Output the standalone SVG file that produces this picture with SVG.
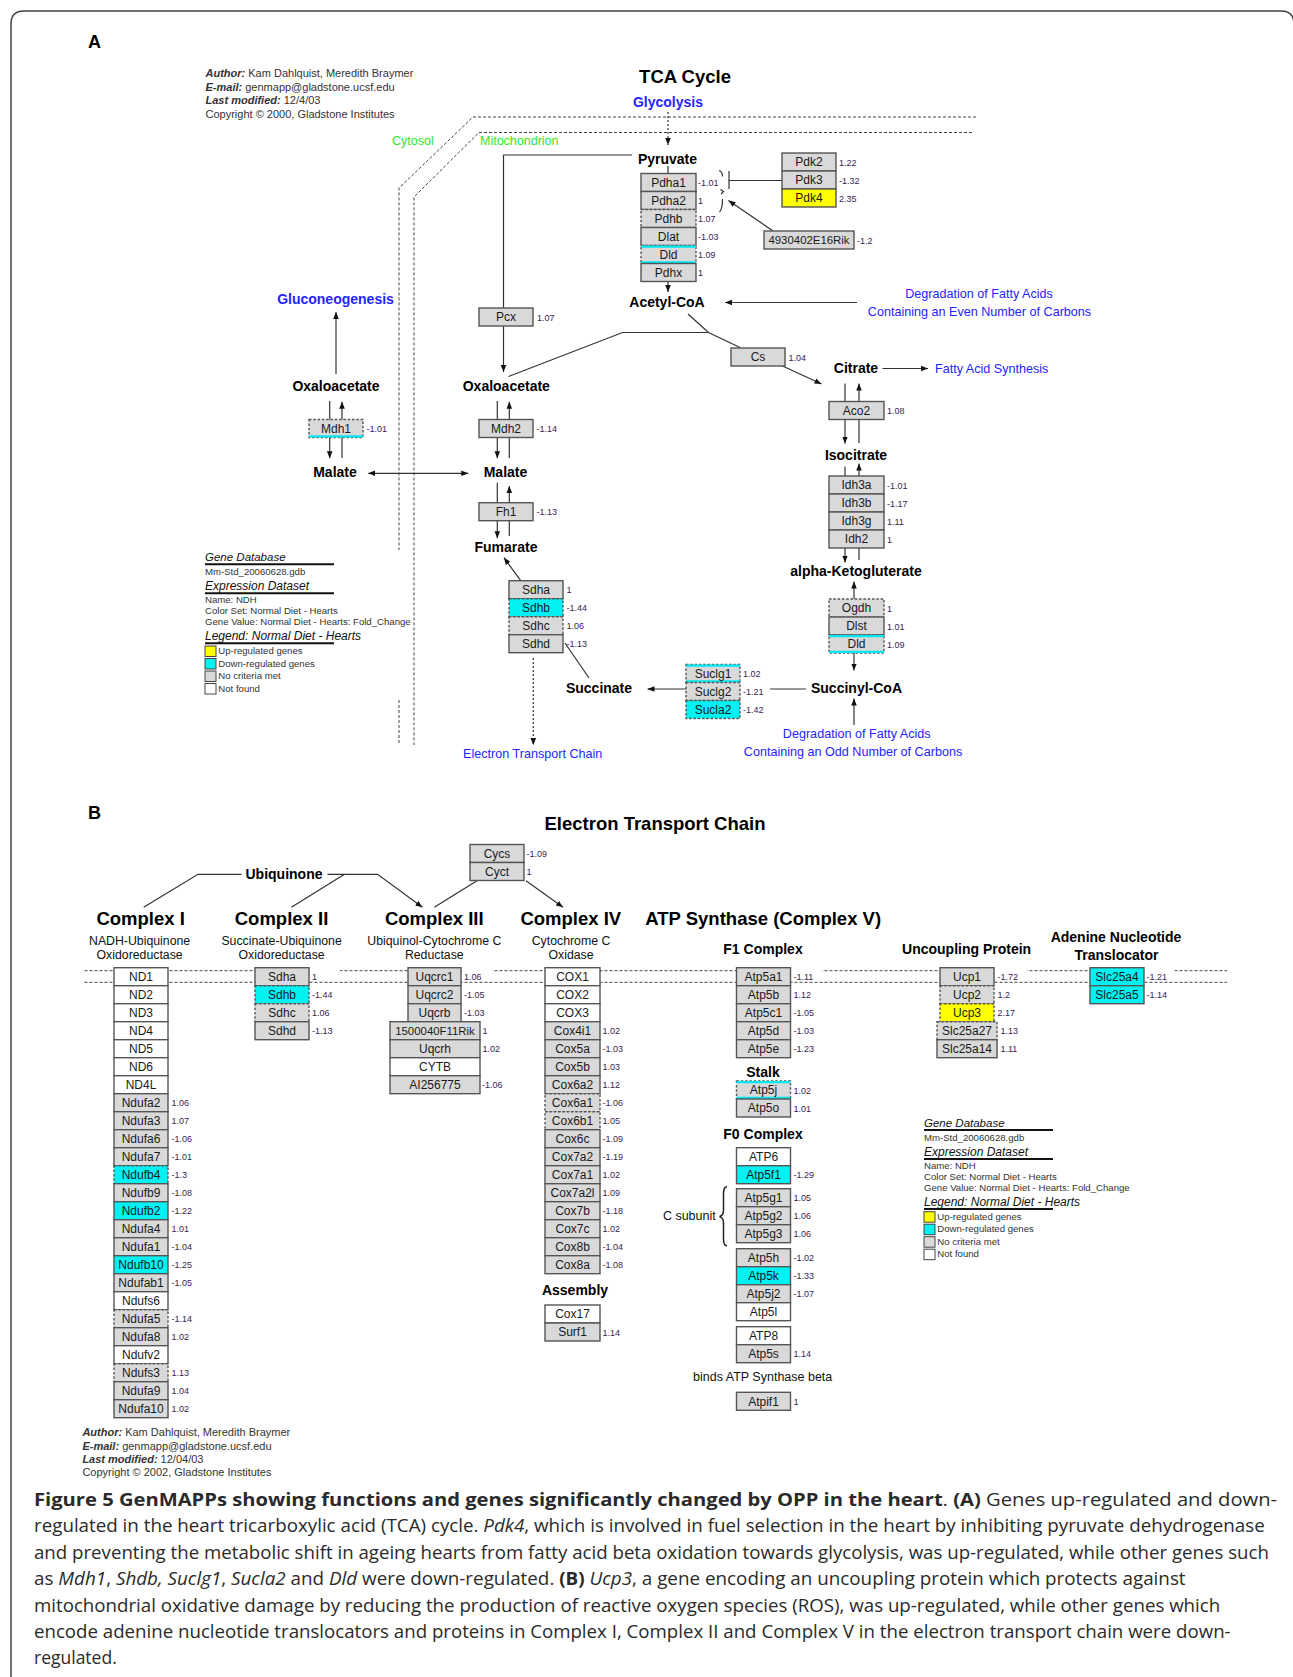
<svg xmlns="http://www.w3.org/2000/svg" width="1293" height="1677" viewBox="0 0 1293 1677">
<defs>
<marker id="ah" viewBox="0 0 10 10" refX="10" refY="5" markerWidth="7" markerHeight="7" markerUnits="userSpaceOnUse" orient="auto-start-reverse"><path d="M0,1 L10,5 L0,9 z" fill="#111"/></marker>
<style>
.g{fill:#d9d9d9;stroke:#555;stroke-width:1.4}
.w{fill:#fff;stroke:#555;stroke-width:1.4}
.c{fill:#00f2f2;stroke:#555;stroke-width:1.4}
.y{fill:#ffff00;stroke:#555;stroke-width:1.4}
.d{stroke-dasharray:2.5 1.8}
.s{stroke:#00e8f0;stroke-width:2.2;fill:none}
.t{font-family:"Liberation Sans",Arial,sans-serif;font-size:12px;text-anchor:middle;fill:#1a1a1a}
.v{font-family:"Liberation Sans",Arial,sans-serif;font-size:9px;fill:#3a1d4f}
.m{font-family:"Liberation Sans",Arial,sans-serif;font-size:14px;font-weight:bold;text-anchor:middle;fill:#000}
.p{font-family:"Liberation Sans",Arial,sans-serif;font-size:12.6px;fill:#2424ff;text-anchor:middle}
.pb{font-family:"Liberation Sans",Arial,sans-serif;font-size:14px;font-weight:bold;fill:#2424ff;text-anchor:middle}
.gr{font-family:"Liberation Sans",Arial,sans-serif;font-size:12.5px;fill:#2ee62e}
.h{font-family:"Liberation Sans",Arial,sans-serif;font-size:18.5px;font-weight:bold;text-anchor:middle;fill:#000}
.sub{font-family:"Liberation Sans",Arial,sans-serif;font-size:12.3px;text-anchor:middle;fill:#111}
.lab{font-family:"Liberation Sans",Arial,sans-serif;font-size:12.5px;fill:#111}
.au{font-family:"Liberation Sans",Arial,sans-serif;font-size:11px;fill:#333}
.bi{font-weight:bold;font-style:italic}
.li{font-family:"Liberation Sans",Arial,sans-serif;font-size:12px;font-style:italic;fill:#111}
.ls{font-family:"Liberation Sans",Arial,sans-serif;font-size:9.6px;fill:#333}
.ul{stroke:#111;stroke-width:2}
.sw{stroke:#444;stroke-width:1}
.ln{fill:none;stroke:#333;stroke-width:1.2}
.ar{marker-end:url(#ah)}
.dot{stroke-dasharray:2 2}
.mem{fill:none;stroke:#444;stroke-width:1;stroke-dasharray:3 2}
.cap{font-family:"Open Sans","Liberation Sans",sans-serif;font-size:17.5px;fill:#2a2a2a}
.pan{font-family:"Liberation Sans",Arial,sans-serif;font-size:18px;font-weight:bold;fill:#000}
</style>
</defs>
<rect width="1293" height="1677" fill="#fff"/>
<path d="M11,1677 V24 Q11,11 24,11 H1281 Q1294,11 1294,24 V1677" fill="none" stroke="#444" stroke-width="1.5"/>

<text class="pan" x="88" y="48">A</text>
<text class="pan" x="88" y="819">B</text>

<!-- Panel A header -->
<g id="authorA" class="au">
<text x="205.5" y="77.3"><tspan class="bi">Author:</tspan> Kam Dahlquist, Meredith Braymer</text>
<text x="205.5" y="91"><tspan class="bi">E-mail:</tspan> genmapp@gladstone.ucsf.edu</text>
<text x="205.5" y="104.3"><tspan class="bi">Last modified:</tspan> 12/4/03</text>
<text x="205.5" y="117.7">Copyright © 2000, Gladstone Institutes</text>
</g>
<text class="h" x="685" y="83">TCA Cycle</text>
<text class="gr" x="392" y="145">Cytosol</text>
<text class="gr" x="480" y="145">Mitochondrion</text>

<g id="membranesA">
<path class="mem" d="M976,117 H473 L399,188 V550"/>
<path class="mem" d="M399,700 V745"/>
<path class="mem" d="M972,132.5 H479 L414,197 V745"/>
</g>

<!-- connectors A -->
<g id="connectorsA">
<path class="ln ar dot" d="M668,112 V145"/>
<path class="ln" d="M632,155 H503.5 V308"/>
<path class="ln ar" d="M503.5,326 V372"/>
<path class="ln" d="M668,166 V173.5"/>
<path class="ln ar" d="M668,281.5 V292"/>
<path class="ln" d="M782,180.5 H729 M729,171 V189"/>
<path class="ln" d="M719,170.5 Q722.5,171.5 722.5,176.5 M720.5,189.5 L723.5,191.5 L721,194 M722.5,199 Q722.5,209 719.5,212"/>
<path class="ln ar" d="M773,231 L728.5,200.5"/>
<path class="ln ar" d="M857,302.5 H725"/>
<path class="ln" d="M688,314 L708.5,332.5 L740,347.5 M508.5,376.5 L622.5,332.5 H708.5"/>
<path class="ln ar" d="M781.5,365.5 L821.5,384"/>
<path class="ln ar" d="M882.5,368.5 H928"/>
<path class="ln ar" d="M845,383.5 V443.5"/>
<path class="ln ar" d="M859,443 V383.5"/>
<path class="ln ar" d="M845,466.5 V562.5"/>
<path class="ln ar" d="M859,560 V463.5"/>
<path class="ln ar" d="M854,599 V581.5"/>
<path class="ln ar" d="M854,653 V670.5"/>
<path class="ln ar" d="M854,725 V698.5"/>
<path class="ln" d="M806,689 H770"/>
<path class="ln ar" d="M686,689 H647.5"/>
<path class="ln" d="M589,678 L565,643"/>
<path class="ln ar" d="M520.7,580.7 L504,557.7"/>
<path class="ln ar dot" d="M533.3,658 V745"/>
<path class="ln ar" d="M497.3,482.7 V538.3"/>
<path class="ln ar" d="M509.3,536 V486"/>
<path class="ln ar" d="M497.3,401 V458.3"/>
<path class="ln ar" d="M509.3,458 V401.7"/>
<path class="ln ar" d="M329.7,401 V458.3"/>
<path class="ln ar" d="M342,458 V401.7"/>
<path class="ln ar" d="M336,374 V312"/>
<path class="ln ar" d="M368.3,473.3 H468.3" marker-start="url(#ah)"/>
</g>

<!-- metabolites A -->
<g id="metabolitesA">
<text id="m-pyruvate" class="m" x="667.5" y="164">Pyruvate</text>
<text id="m-acetylcoa" class="m" x="667" y="307">Acetyl-CoA</text>
<text id="m-citrate" class="m" x="856" y="373">Citrate</text>
<text id="m-isocitrate" class="m" x="856" y="460">Isocitrate</text>
<text id="m-akg" class="m" x="856" y="575.5">alpha-Ketogluterate</text>
<text id="m-succoa" class="m" x="856.5" y="692.5">Succinyl-CoA</text>
<text id="m-succinate" class="m" x="599" y="693">Succinate</text>
<text id="m-fumarate" class="m" x="506" y="552.3">Fumarate</text>
<text id="m-malate2" class="m" x="505.5" y="477.3">Malate</text>
<text id="m-malate1" class="m" x="335" y="477.3">Malate</text>
<text id="m-oaa2" class="m" x="506.3" y="391">Oxaloacetate</text>
<text id="m-oaa1" class="m" x="336" y="391">Oxaloacetate</text>
</g>
<g id="pathwaysA">
<text class="pb" x="668" y="107">Glycolysis</text>
<text class="pb" x="335.5" y="304">Gluconeogenesis</text>
<text class="p" x="979" y="298">Degradation of Fatty Acids</text>
<text class="p" x="979.5" y="316">Containing an Even Number of Carbons</text>
<text class="p" x="935" y="373" text-anchor="start" style="text-anchor:start">Fatty Acid Synthesis</text>
<text class="p" x="532.7" y="758.3">Electron Transport Chain</text>
<text class="p" x="856.7" y="737.5">Degradation of Fatty Acids</text>
<text class="p" x="853" y="755.7">Containing an Odd Number of Carbons</text>
</g>

<!-- genes A -->
<g id="Pdha1" transform="translate(641,173.5)"><rect class="g" width="55" height="18"/><text class="t" x="27.5" y="13.3">Pdha1</text><text class="v" x="57" y="12.5">-1.01</text></g>
<g id="Pdha2" transform="translate(641,191.5)"><rect class="g" width="55" height="18"/><text class="t" x="27.5" y="13.3">Pdha2</text><text class="v" x="57" y="12.5">1</text></g>
<g id="Pdhb" transform="translate(641,209.5)"><rect class="g d" width="55" height="18"/><text class="t" x="27.5" y="13.3">Pdhb</text><text class="v" x="57" y="12.5">1.07</text></g>
<g id="Dlat" transform="translate(641,227.5)"><rect class="g" width="55" height="18"/><text class="t" x="27.5" y="13.3">Dlat</text><text class="v" x="57" y="12.5">-1.03</text></g>
<g id="Dld-a" transform="translate(641,245.5)"><rect class="g d" width="55" height="18"/><path class="s" d="M0,1.2H55M0,16.8H55"/><text class="t" x="27.5" y="13.3">Dld</text><text class="v" x="57" y="12.5">1.09</text></g>
<g id="Pdhx" transform="translate(641,263.5)"><rect class="g" width="55" height="18"/><text class="t" x="27.5" y="13.3">Pdhx</text><text class="v" x="57" y="12.5">1</text></g>
<g id="Pdk2" transform="translate(782,153)"><rect class="g" width="54" height="18"/><text class="t" x="27" y="13.3">Pdk2</text><text class="v" x="57" y="12.5">1.22</text></g>
<g id="Pdk3" transform="translate(782,171)"><rect class="g" width="54" height="18"/><text class="t" x="27" y="13.3">Pdk3</text><text class="v" x="57" y="12.5">-1.32</text></g>
<g id="Pdk4" transform="translate(782,189)"><rect class="y" width="54" height="18"/><text class="t" x="27" y="13.3">Pdk4</text><text class="v" x="57" y="12.5">2.35</text></g>
<g id="Rik4930402E16" transform="translate(764,231)"><rect class="g" width="90" height="18"/><text class="t" x="45" y="13.3" style="font-size:11.4px">4930402E16Rik</text><text class="v" x="93" y="12.5">-1.2</text></g>
<g id="Pcx" transform="translate(479,308)"><rect class="g" width="54" height="18"/><text class="t" x="27" y="13.3">Pcx</text><text class="v" x="58" y="12.5">1.07</text></g>
<g id="Cs" transform="translate(731,348)"><rect class="g" width="54" height="18"/><text class="t" x="27" y="13.3">Cs</text><text class="v" x="57.5" y="12.5">1.04</text></g>
<g id="Aco2" transform="translate(829,401.5)"><rect class="g" width="55" height="18"/><text class="t" x="27.5" y="13.3">Aco2</text><text class="v" x="58" y="12.5">1.08</text></g>
<g id="Idh3a" transform="translate(829,476)"><rect class="g" width="55" height="18"/><text class="t" x="27.5" y="13.3">Idh3a</text><text class="v" x="58" y="12.5">-1.01</text></g>
<g id="Idh3b" transform="translate(829,494)"><rect class="g" width="55" height="18"/><text class="t" x="27.5" y="13.3">Idh3b</text><text class="v" x="58" y="12.5">-1.17</text></g>
<g id="Idh3g" transform="translate(829,512)"><rect class="g" width="55" height="18"/><text class="t" x="27.5" y="13.3">Idh3g</text><text class="v" x="58" y="12.5">1.11</text></g>
<g id="Idh2" transform="translate(829,530)"><rect class="g" width="55" height="18"/><text class="t" x="27.5" y="13.3">Idh2</text><text class="v" x="58" y="12.5">1</text></g>
<g id="Ogdh" transform="translate(829,599)"><rect class="g d" width="55" height="18"/><text class="t" x="27.5" y="13.3">Ogdh</text><text class="v" x="58" y="12.5">1</text></g>
<g id="Dlst" transform="translate(829,617)"><rect class="g" width="55" height="18"/><text class="t" x="27.5" y="13.3">Dlst</text><text class="v" x="58" y="12.5">1.01</text></g>
<g id="Dld-b" transform="translate(829,635)"><rect class="g d" width="55" height="18"/><path class="s" d="M0,1.2H55M0,16.8H55"/><text class="t" x="27.5" y="13.3">Dld</text><text class="v" x="58" y="12.5">1.09</text></g>
<g id="Suclg1" transform="translate(686,664.5)"><rect class="g d" width="54" height="18"/><path class="s" d="M0,1.2H54M0,16.8H54"/><text class="t" x="27" y="13.3">Suclg1</text><text class="v" x="57" y="12.5">1.02</text></g>
<g id="Suclg2" transform="translate(686,682.5)"><rect class="g d" width="54" height="18"/><text class="t" x="27" y="13.3">Suclg2</text><text class="v" x="57" y="12.5">-1.21</text></g>
<g id="Sucla2" transform="translate(686,700.5)"><rect class="c d" width="54" height="18"/><text class="t" x="27" y="13.3">Sucla2</text><text class="v" x="57" y="12.5">-1.42</text></g>
<g id="Mdh1" transform="translate(309,419.5)"><rect class="g d" width="54" height="18"/><path class="s" d="M0,16.8H54"/><text class="t" x="27" y="13.3">Mdh1</text><text class="v" x="57.5" y="12.5">-1.01</text></g>
<g id="Mdh2" transform="translate(479,419.5)"><rect class="g" width="54" height="18"/><text class="t" x="27" y="13.3">Mdh2</text><text class="v" x="57.5" y="12.5">-1.14</text></g>
<g id="Fh1" transform="translate(479,502.7)"><rect class="g" width="54" height="18"/><text class="t" x="27" y="13.3">Fh1</text><text class="v" x="57.5" y="12.5">-1.13</text></g>
<g id="Sdha-a" transform="translate(509,580.7)"><rect class="g" width="54" height="18"/><text class="t" x="27" y="13.3">Sdha</text><text class="v" x="57.5" y="12.5">1</text></g>
<g id="Sdhb-a" transform="translate(509,598.7)"><rect class="c d" width="54" height="18"/><text class="t" x="27" y="13.3">Sdhb</text><text class="v" x="57.5" y="12.5">-1.44</text></g>
<g id="Sdhc-a" transform="translate(509,616.7)"><rect class="g d" width="54" height="18"/><text class="t" x="27" y="13.3">Sdhc</text><text class="v" x="57.5" y="12.5">1.06</text></g>
<g id="Sdhd-a" transform="translate(509,634.7)"><rect class="g" width="54" height="18"/><text class="t" x="27" y="13.3">Sdhd</text><text class="v" x="57.5" y="12.5">-1.13</text></g>

<!-- legend A -->
<g id="legendA" transform="translate(205,561)">
<text class="li" x="0" y="0" style="font-size:11.5px">Gene Database</text><line class="ul" x1="0" y1="3.3" x2="129" y2="3.3"/>
<text class="ls" x="0" y="14">Mm-Std_20060628.gdb</text>
<text class="li" x="0" y="29">Expression Dataset</text><line class="ul" x1="0" y1="32.3" x2="129" y2="32.3"/>
<text class="ls" x="0" y="42.3">Name: NDH</text>
<text class="ls" x="0" y="53.3">Color Set: Normal Diet - Hearts</text>
<text class="ls" x="0" y="64.3">Gene Value: Normal Diet - Hearts: Fold_Change</text>
<text class="li" x="0" y="79">Legend: Normal Diet - Hearts</text><line class="ul" x1="0" y1="82.3" x2="129" y2="82.3"/>
<rect class="sw" x="0" y="85" width="11" height="10.5" fill="#ffff00"/>
<rect class="sw" x="0" y="97.5" width="11" height="10.5" fill="#00f2f2"/>
<rect class="sw" x="0" y="110" width="11" height="10.5" fill="#d9d9d9"/>
<rect class="sw" x="0" y="122.5" width="11" height="10.5" fill="#fff"/>
<text class="ls" x="13.3" y="93">Up-regulated genes</text>
<text class="ls" x="13.3" y="105.7">Down-regulated genes</text>
<text class="ls" x="13.3" y="118">No criteria met</text>
<text class="ls" x="13.3" y="130.7">Not found</text>
</g>

<!-- Panel B -->
<text class="h" x="655" y="830">Electron Transport Chain</text>
<g id="membranesB">
<path class="mem" d="M84.5,970.7 H1227"/>
<path class="mem" d="M84.5,982.3 H1227"/>
<rect x="309.5" y="964" width="30.5" height="13.5" fill="#fff"/>
<rect x="461.5" y="964" width="31" height="13.5" fill="#fff"/>
<rect x="790.5" y="964" width="31.5" height="13.5" fill="#fff"/>
<rect x="994.5" y="964" width="32.5" height="13.5" fill="#fff"/>
<rect x="1144" y="964" width="30.5" height="13.5" fill="#fff"/>
</g>
<g id="connectorsB">
<path class="ln" d="M143.7,907.3 L198,874.3 H241.5"/>
<path class="ln ar" d="M327.5,874.3 H377.6 L422.4,907.3"/>
<path class="ln" d="M344.5,874.3 L291.4,907.3"/>
<path class="ln" d="M477,880.7 L434.3,907.3"/>
<path class="ln ar" d="M526,880.7 L563,907.3"/>
</g>
<text id="ubiquinone" class="m" x="284" y="879.3">Ubiquinone</text>
<g id="Cycs" transform="translate(470,844.5)"><rect class="g" width="54" height="18"/><text class="t" x="27" y="13.3">Cycs</text><text class="v" x="56.5" y="12.5">-1.09</text></g>
<g id="Cyct" transform="translate(470,862.5)"><rect class="g" width="54" height="18"/><text class="t" x="27" y="13.3">Cyct</text><text class="v" x="56.5" y="12.5">1</text></g>

<g id="headersB">
<text class="h" x="140.6" y="925">Complex I</text>
<text class="h" x="281.5" y="925">Complex II</text>
<text class="h" x="434.3" y="925">Complex III</text>
<text class="h" x="570.8" y="925">Complex IV</text>
<text class="h" x="763.2" y="925">ATP Synthase (Complex V)</text>
<text class="sub" x="139.6" y="945">NADH-Ubiquinone</text>
<text class="sub" x="139.6" y="959">Oxidoreductase</text>
<text class="sub" x="281.6" y="945">Succinate-Ubiquinone</text>
<text class="sub" x="281.6" y="959">Oxidoreductase</text>
<text class="sub" x="434.3" y="945">Ubiquinol-Cytochrome C</text>
<text class="sub" x="434.3" y="959">Reductase</text>
<text class="sub" x="571" y="945">Cytochrome C</text>
<text class="sub" x="571" y="959">Oxidase</text>
<text class="m" x="763" y="954">F1 Complex</text>
<text class="m" x="966.6" y="954">Uncoupling Protein</text>
<text class="m" x="1116" y="941.7">Adenine Nucleotide</text>
<text class="m" x="1116.5" y="960">Translocator</text>
<text class="m" x="763" y="1077.3">Stalk</text>
<text class="m" x="763" y="1139.3">F0 Complex</text>
<text class="m" x="575" y="1295">Assembly</text>
<text class="lab" x="715.7" y="1220" text-anchor="end">C subunit</text>
<text class="lab" x="762.7" y="1381" text-anchor="middle">binds ATP Synthase beta</text>
<path d="M727,1186.5 Q723.5,1187 723.5,1194 V1210 Q723.5,1215.5 719.5,1216.5 Q723.5,1217.5 723.5,1223 V1239 Q723.5,1245.5 727,1246" fill="none" stroke="#222" stroke-width="1.5"/>
</g>

<!-- Complex I -->
<g id="ND1" transform="translate(114,967.7)"><rect class="w" width="54" height="18"/><text class="t" x="27" y="13.3">ND1</text></g>
<g id="ND2" transform="translate(114,985.7)"><rect class="w" width="54" height="18"/><text class="t" x="27" y="13.3">ND2</text></g>
<g id="ND3" transform="translate(114,1003.7)"><rect class="w" width="54" height="18"/><text class="t" x="27" y="13.3">ND3</text></g>
<g id="ND4" transform="translate(114,1021.7)"><rect class="w" width="54" height="18"/><text class="t" x="27" y="13.3">ND4</text></g>
<g id="ND5" transform="translate(114,1039.7)"><rect class="w" width="54" height="18"/><text class="t" x="27" y="13.3">ND5</text></g>
<g id="ND6" transform="translate(114,1057.7)"><rect class="w" width="54" height="18"/><text class="t" x="27" y="13.3">ND6</text></g>
<g id="ND4L" transform="translate(114,1075.7)"><rect class="w" width="54" height="18"/><text class="t" x="27" y="13.3">ND4L</text></g>
<g id="Ndufa2" transform="translate(114,1093.7)"><rect class="g" width="54" height="18"/><text class="t" x="27" y="13.3">Ndufa2</text><text class="v" x="57.5" y="12.5">1.06</text></g>
<g id="Ndufa3" transform="translate(114,1111.7)"><rect class="g" width="54" height="18"/><text class="t" x="27" y="13.3">Ndufa3</text><text class="v" x="57.5" y="12.5">1.07</text></g>
<g id="Ndufa6" transform="translate(114,1129.7)"><rect class="g" width="54" height="18"/><text class="t" x="27" y="13.3">Ndufa6</text><text class="v" x="57.5" y="12.5">-1.06</text></g>
<g id="Ndufa7" transform="translate(114,1147.7)"><rect class="g" width="54" height="18"/><text class="t" x="27" y="13.3">Ndufa7</text><text class="v" x="57.5" y="12.5">-1.01</text></g>
<g id="Ndufb4" transform="translate(114,1165.7)"><rect class="c d" width="54" height="18"/><text class="t" x="27" y="13.3">Ndufb4</text><text class="v" x="57.5" y="12.5">-1.3</text></g>
<g id="Ndufb9" transform="translate(114,1183.7)"><rect class="g" width="54" height="18"/><text class="t" x="27" y="13.3">Ndufb9</text><text class="v" x="57.5" y="12.5">-1.08</text></g>
<g id="Ndufb2" transform="translate(114,1201.7)"><rect class="c" width="54" height="18"/><text class="t" x="27" y="13.3">Ndufb2</text><text class="v" x="57.5" y="12.5">-1.22</text></g>
<g id="Ndufa4" transform="translate(114,1219.7)"><rect class="g" width="54" height="18"/><text class="t" x="27" y="13.3">Ndufa4</text><text class="v" x="57.5" y="12.5">1.01</text></g>
<g id="Ndufa1" transform="translate(114,1237.7)"><rect class="g" width="54" height="18"/><text class="t" x="27" y="13.3">Ndufa1</text><text class="v" x="57.5" y="12.5">-1.04</text></g>
<g id="Ndufb10" transform="translate(114,1255.7)"><rect class="c" width="54" height="18"/><text class="t" x="27" y="13.3">Ndufb10</text><text class="v" x="57.5" y="12.5">-1.25</text></g>
<g id="Ndufab1" transform="translate(114,1273.7)"><rect class="g" width="54" height="18"/><text class="t" x="27" y="13.3">Ndufab1</text><text class="v" x="57.5" y="12.5">-1.05</text></g>
<g id="Ndufs6" transform="translate(114,1291.7)"><rect class="w" width="54" height="18"/><text class="t" x="27" y="13.3">Ndufs6</text></g>
<g id="Ndufa5" transform="translate(114,1309.7)"><rect class="g d" width="54" height="18"/><text class="t" x="27" y="13.3">Ndufa5</text><text class="v" x="57.5" y="12.5">-1.14</text></g>
<g id="Ndufa8" transform="translate(114,1327.7)"><rect class="g" width="54" height="18"/><text class="t" x="27" y="13.3">Ndufa8</text><text class="v" x="57.5" y="12.5">1.02</text></g>
<g id="Ndufv2" transform="translate(114,1345.7)"><rect class="w" width="54" height="18"/><text class="t" x="27" y="13.3">Ndufv2</text></g>
<g id="Ndufs3" transform="translate(114,1363.7)"><rect class="g d" width="54" height="18"/><text class="t" x="27" y="13.3">Ndufs3</text><text class="v" x="57.5" y="12.5">1.13</text></g>
<g id="Ndufa9" transform="translate(114,1381.7)"><rect class="g" width="54" height="18"/><text class="t" x="27" y="13.3">Ndufa9</text><text class="v" x="57.5" y="12.5">1.04</text></g>
<g id="Ndufa10" transform="translate(114,1399.7)"><rect class="g" width="54" height="18"/><text class="t" x="27" y="13.3">Ndufa10</text><text class="v" x="57.5" y="12.5">1.02</text></g>

<!-- Complex II -->
<g id="Sdha-b" transform="translate(255,967.7)"><rect class="g" width="54" height="18"/><text class="t" x="27" y="13.3">Sdha</text><text class="v" x="57" y="12.5">1</text></g>
<g id="Sdhb-b" transform="translate(255,985.7)"><rect class="c d" width="54" height="18"/><text class="t" x="27" y="13.3">Sdhb</text><text class="v" x="57" y="12.5">-1.44</text></g>
<g id="Sdhc-b" transform="translate(255,1003.7)"><rect class="g d" width="54" height="18"/><text class="t" x="27" y="13.3">Sdhc</text><text class="v" x="57" y="12.5">1.06</text></g>
<g id="Sdhd-b" transform="translate(255,1021.7)"><rect class="g" width="54" height="18"/><text class="t" x="27" y="13.3">Sdhd</text><text class="v" x="57" y="12.5">-1.13</text></g>

<!-- Complex III -->
<g id="Uqcrc1" transform="translate(408,967.7)"><rect class="g" width="53" height="18"/><text class="t" x="26.5" y="13.3">Uqcrc1</text><text class="v" x="56" y="12.5">1.06</text></g>
<g id="Uqcrc2" transform="translate(408,985.7)"><rect class="g" width="53" height="18"/><text class="t" x="26.5" y="13.3">Uqcrc2</text><text class="v" x="56" y="12.5">-1.05</text></g>
<g id="Uqcrb" transform="translate(408,1003.7)"><rect class="g" width="53" height="18"/><text class="t" x="26.5" y="13.3">Uqcrb</text><text class="v" x="56" y="12.5">-1.03</text></g>
<g id="Rik1500040F11" transform="translate(390,1021.7)"><rect class="g" width="90" height="18"/><text class="t" x="45" y="13.3" style="font-size:11.4px">1500040F11Rik</text><text class="v" x="92.5" y="12.5">1</text></g>
<g id="Uqcrh" transform="translate(390,1039.7)"><rect class="g" width="90" height="18"/><text class="t" x="45" y="13.3">Uqcrh</text><text class="v" x="92.5" y="12.5">1.02</text></g>
<g id="CYTB" transform="translate(390,1057.7)"><rect class="w" width="90" height="18"/><text class="t" x="45" y="13.3">CYTB</text></g>
<g id="AI256775" transform="translate(390,1075.7)"><rect class="g" width="90" height="18"/><text class="t" x="45" y="13.3">AI256775</text><text class="v" x="92" y="12.5">-1.06</text></g>

<!-- Complex IV -->
<g id="COX1" transform="translate(545,967.7)"><rect class="w" width="55" height="18"/><text class="t" x="27.5" y="13.3">COX1</text></g>
<g id="COX2" transform="translate(545,985.7)"><rect class="w" width="55" height="18"/><text class="t" x="27.5" y="13.3">COX2</text></g>
<g id="COX3" transform="translate(545,1003.7)"><rect class="w" width="55" height="18"/><text class="t" x="27.5" y="13.3">COX3</text></g>
<g id="Cox4i1" transform="translate(545,1021.7)"><rect class="g" width="55" height="18"/><text class="t" x="27.5" y="13.3">Cox4i1</text><text class="v" x="57.5" y="12.5">1.02</text></g>
<g id="Cox5a" transform="translate(545,1039.7)"><rect class="g" width="55" height="18"/><text class="t" x="27.5" y="13.3">Cox5a</text><text class="v" x="57.5" y="12.5">-1.03</text></g>
<g id="Cox5b" transform="translate(545,1057.7)"><rect class="g" width="55" height="18"/><text class="t" x="27.5" y="13.3">Cox5b</text><text class="v" x="57.5" y="12.5">1.03</text></g>
<g id="Cox6a2" transform="translate(545,1075.7)"><rect class="g" width="55" height="18"/><text class="t" x="27.5" y="13.3">Cox6a2</text><text class="v" x="57.5" y="12.5">1.12</text></g>
<g id="Cox6a1" transform="translate(545,1093.7)"><rect class="g d" width="55" height="18"/><text class="t" x="27.5" y="13.3">Cox6a1</text><text class="v" x="57.5" y="12.5">-1.06</text></g>
<g id="Cox6b1" transform="translate(545,1111.7)"><rect class="g d" width="55" height="18"/><text class="t" x="27.5" y="13.3">Cox6b1</text><text class="v" x="57.5" y="12.5">1.05</text></g>
<g id="Cox6c" transform="translate(545,1129.7)"><rect class="g" width="55" height="18"/><text class="t" x="27.5" y="13.3">Cox6c</text><text class="v" x="57.5" y="12.5">-1.09</text></g>
<g id="Cox7a2" transform="translate(545,1147.7)"><rect class="g" width="55" height="18"/><text class="t" x="27.5" y="13.3">Cox7a2</text><text class="v" x="57.5" y="12.5">-1.19</text></g>
<g id="Cox7a1" transform="translate(545,1165.7)"><rect class="g" width="55" height="18"/><text class="t" x="27.5" y="13.3">Cox7a1</text><text class="v" x="57.5" y="12.5">1.02</text></g>
<g id="Cox7a2l" transform="translate(545,1183.7)"><rect class="g" width="55" height="18"/><text class="t" x="27.5" y="13.3">Cox7a2l</text><text class="v" x="57.5" y="12.5">1.09</text></g>
<g id="Cox7b" transform="translate(545,1201.7)"><rect class="g" width="55" height="18"/><text class="t" x="27.5" y="13.3">Cox7b</text><text class="v" x="57.5" y="12.5">-1.18</text></g>
<g id="Cox7c" transform="translate(545,1219.7)"><rect class="g" width="55" height="18"/><text class="t" x="27.5" y="13.3">Cox7c</text><text class="v" x="57.5" y="12.5">1.02</text></g>
<g id="Cox8b" transform="translate(545,1237.7)"><rect class="g" width="55" height="18"/><text class="t" x="27.5" y="13.3">Cox8b</text><text class="v" x="57.5" y="12.5">-1.04</text></g>
<g id="Cox8a" transform="translate(545,1255.7)"><rect class="g" width="55" height="18"/><text class="t" x="27.5" y="13.3">Cox8a</text><text class="v" x="57.5" y="12.5">-1.08</text></g>
<g id="Cox17" transform="translate(545,1305)"><rect class="w" width="55" height="18"/><text class="t" x="27.5" y="13.3">Cox17</text></g>
<g id="Surf1" transform="translate(545,1323)"><rect class="g" width="55" height="18"/><text class="t" x="27.5" y="13.3">Surf1</text><text class="v" x="57.5" y="12.5">1.14</text></g>

<!-- Complex V -->
<g id="Atp5a1" transform="translate(736.5,967.7)"><rect class="g" width="54" height="18"/><text class="t" x="27" y="13.3">Atp5a1</text><text class="v" x="57" y="12.5">-1.11</text></g>
<g id="Atp5b" transform="translate(736.5,985.7)"><rect class="g" width="54" height="18"/><text class="t" x="27" y="13.3">Atp5b</text><text class="v" x="57" y="12.5">1.12</text></g>
<g id="Atp5c1" transform="translate(736.5,1003.7)"><rect class="g" width="54" height="18"/><text class="t" x="27" y="13.3">Atp5c1</text><text class="v" x="57" y="12.5">-1.05</text></g>
<g id="Atp5d" transform="translate(736.5,1021.7)"><rect class="g" width="54" height="18"/><text class="t" x="27" y="13.3">Atp5d</text><text class="v" x="57" y="12.5">-1.03</text></g>
<g id="Atp5e" transform="translate(736.5,1039.7)"><rect class="g" width="54" height="18"/><text class="t" x="27" y="13.3">Atp5e</text><text class="v" x="57" y="12.5">-1.23</text></g>
<g id="Atp5j" transform="translate(736.5,1081)"><rect class="g d" width="54" height="18"/><path class="s" d="M0,1.2H54M0,16.8H54"/><text class="t" x="27" y="13.3">Atp5j</text><text class="v" x="57" y="12.5">1.02</text></g>
<g id="Atp5o" transform="translate(736.5,1099)"><rect class="g" width="54" height="18"/><text class="t" x="27" y="13.3">Atp5o</text><text class="v" x="57" y="12.5">1.01</text></g>
<g id="ATP6" transform="translate(736.5,1147.7)"><rect class="w" width="54" height="18"/><text class="t" x="27" y="13.3">ATP6</text></g>
<g id="Atp5f1" transform="translate(736.5,1165.7)"><rect class="c" width="54" height="18"/><text class="t" x="27" y="13.3">Atp5f1</text><text class="v" x="57" y="12.5">-1.29</text></g>
<g id="Atp5g1" transform="translate(736.5,1188.7)"><rect class="g" width="54" height="18"/><text class="t" x="27" y="13.3">Atp5g1</text><text class="v" x="57" y="12.5">1.05</text></g>
<g id="Atp5g2" transform="translate(736.5,1206.7)"><rect class="g" width="54" height="18"/><text class="t" x="27" y="13.3">Atp5g2</text><text class="v" x="57" y="12.5">1.06</text></g>
<g id="Atp5g3" transform="translate(736.5,1224.7)"><rect class="g" width="54" height="18"/><text class="t" x="27" y="13.3">Atp5g3</text><text class="v" x="57" y="12.5">1.06</text></g>
<g id="Atp5h" transform="translate(736.5,1248.7)"><rect class="g" width="54" height="18"/><text class="t" x="27" y="13.3">Atp5h</text><text class="v" x="57" y="12.5">-1.02</text></g>
<g id="Atp5k" transform="translate(736.5,1266.7)"><rect class="c" width="54" height="18"/><text class="t" x="27" y="13.3">Atp5k</text><text class="v" x="57" y="12.5">-1.33</text></g>
<g id="Atp5j2" transform="translate(736.5,1284.7)"><rect class="g" width="54" height="18"/><text class="t" x="27" y="13.3">Atp5j2</text><text class="v" x="57" y="12.5">-1.07</text></g>
<g id="Atp5l" transform="translate(736.5,1302.7)"><rect class="w" width="54" height="18"/><text class="t" x="27" y="13.3">Atp5l</text></g>
<g id="ATP8" transform="translate(736.5,1326.7)"><rect class="w" width="54" height="18"/><text class="t" x="27" y="13.3">ATP8</text></g>
<g id="Atp5s" transform="translate(736.5,1344.7)"><rect class="g" width="54" height="18"/><text class="t" x="27" y="13.3">Atp5s</text><text class="v" x="57" y="12.5">1.14</text></g>
<g id="Atpif1" transform="translate(736.5,1392.3)"><rect class="g" width="54" height="18"/><text class="t" x="27" y="13.3">Atpif1</text><text class="v" x="57" y="12.5">1</text></g>

<!-- Uncoupling -->
<g id="Ucp1" transform="translate(940,967.7)"><rect class="g" width="54" height="18"/><text class="t" x="27" y="13.3">Ucp1</text><text class="v" x="57.5" y="12.5">-1.72</text></g>
<g id="Ucp2" transform="translate(940,985.7)"><rect class="g d" width="54" height="18"/><text class="t" x="27" y="13.3">Ucp2</text><text class="v" x="57.5" y="12.5">1.2</text></g>
<g id="Ucp3" transform="translate(940,1003.7)"><rect class="y d" width="54" height="18"/><text class="t" x="27" y="13.3">Ucp3</text><text class="v" x="57.5" y="12.5">2.17</text></g>
<g id="Slc25a27" transform="translate(937,1021.7)"><rect class="g d" width="60" height="18"/><text class="t" x="30" y="13.3">Slc25a27</text><text class="v" x="63.5" y="12.5">1.13</text></g>
<g id="Slc25a14" transform="translate(937,1039.7)"><rect class="g" width="60" height="18"/><text class="t" x="30" y="13.3">Slc25a14</text><text class="v" x="63.5" y="12.5">1.11</text></g>

<!-- ANT -->
<g id="Slc25a4" transform="translate(1090,967.7)"><rect class="c" width="54" height="18"/><text class="t" x="27" y="13.3">Slc25a4</text><text class="v" x="56.5" y="12.5">-1.21</text></g>
<g id="Slc25a5" transform="translate(1090,985.7)"><rect class="c" width="54" height="18"/><text class="t" x="27" y="13.3">Slc25a5</text><text class="v" x="56.5" y="12.5">-1.14</text></g>

<!-- legend B -->
<g id="legendB" transform="translate(924,1126.7)">
<text class="li" x="0" y="0" style="font-size:11.5px">Gene Database</text><line class="ul" x1="0" y1="3.3" x2="129" y2="3.3"/>
<text class="ls" x="0" y="14">Mm-Std_20060628.gdb</text>
<text class="li" x="0" y="29">Expression Dataset</text><line class="ul" x1="0" y1="32.3" x2="129" y2="32.3"/>
<text class="ls" x="0" y="42.3">Name: NDH</text>
<text class="ls" x="0" y="53.3">Color Set: Normal Diet - Hearts</text>
<text class="ls" x="0" y="64.3">Gene Value: Normal Diet - Hearts: Fold_Change</text>
<text class="li" x="0" y="79">Legend: Normal Diet - Hearts</text><line class="ul" x1="0" y1="82.3" x2="129" y2="82.3"/>
<rect class="sw" x="0" y="85" width="11" height="10.5" fill="#ffff00"/>
<rect class="sw" x="0" y="97.5" width="11" height="10.5" fill="#00f2f2"/>
<rect class="sw" x="0" y="110" width="11" height="10.5" fill="#d9d9d9"/>
<rect class="sw" x="0" y="122.5" width="11" height="10.5" fill="#fff"/>
<text class="ls" x="13.3" y="93">Up-regulated genes</text>
<text class="ls" x="13.3" y="105.7">Down-regulated genes</text>
<text class="ls" x="13.3" y="118">No criteria met</text>
<text class="ls" x="13.3" y="130.7">Not found</text>
</g>

<g id="authorB" class="au">
<text x="82.4" y="1436"><tspan class="bi">Author:</tspan> Kam Dahlquist, Meredith Braymer</text>
<text x="82.4" y="1449.7"><tspan class="bi">E-mail:</tspan> genmapp@gladstone.ucsf.edu</text>
<text x="82.4" y="1463"><tspan class="bi">Last modified:</tspan> 12/04/03</text>
<text x="82.4" y="1476.3">Copyright © 2002, Gladstone Institutes</text>
</g>

<!-- caption -->
<g id="caption" class="cap">
<text x="34" y="1506" textLength="1243" lengthAdjust="spacingAndGlyphs"><tspan font-weight="bold">Figure 5 GenMAPPs showing functions and genes significantly changed by OPP in the heart</tspan>. <tspan font-weight="bold">(A)</tspan> Genes up-regulated and down-</text>
<text x="34" y="1532.4" textLength="1230.7" lengthAdjust="spacingAndGlyphs">regulated in the heart tricarboxylic acid (TCA) cycle. <tspan font-style="italic">Pdk4</tspan>, which is involved in fuel selection in the heart by inhibiting pyruvate dehydrogenase</text>
<text x="34" y="1558.8" textLength="1234.9" lengthAdjust="spacingAndGlyphs">and preventing the metabolic shift in ageing hearts from fatty acid beta oxidation towards glycolysis, was up-regulated, while other genes such</text>
<text x="34" y="1585.2" textLength="1151.6" lengthAdjust="spacingAndGlyphs">as <tspan font-style="italic">Mdh1</tspan>, <tspan font-style="italic">Shdb, Suclg1</tspan>, <tspan font-style="italic">Sucla2</tspan> and <tspan font-style="italic">Dld</tspan> were down-regulated. <tspan font-weight="bold">(B)</tspan> <tspan font-style="italic">Ucp3</tspan>, a gene encoding an uncoupling protein which protects against</text>
<text x="34" y="1611.6" textLength="1186.2" lengthAdjust="spacingAndGlyphs">mitochondrial oxidative damage by reducing the production of reactive oxygen species (ROS), was up-regulated, while other genes which</text>
<text x="34" y="1638" textLength="1196.6" lengthAdjust="spacingAndGlyphs">encode adenine nucleotide translocators and proteins in Complex I, Complex II and Complex V in the electron transport chain were down-</text>
<text x="34" y="1664.4">regulated.</text>
</g>
</svg>
